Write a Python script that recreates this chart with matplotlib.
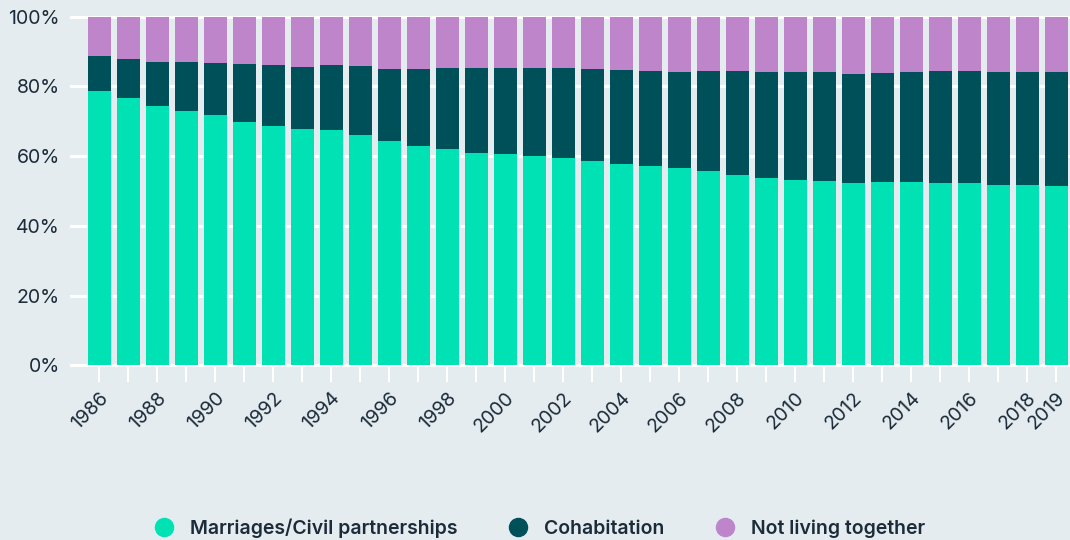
import matplotlib.pyplot as plt
import numpy as np
from matplotlib.lines import Line2D

plt.rcParams['font.family'] = ['Inter', 'DejaVu Sans']

years = list(range(1986, 2020))
# share of couples (%)
married = [78.6, 76.6, 74.3, 72.9, 71.7, 69.7, 68.6, 67.7, 67.4, 66.0,
           64.3, 62.8, 62.0, 60.8, 60.5, 60.0, 59.4, 58.5, 57.6, 57.1,
           56.5, 55.7, 54.5, 53.7, 53.1, 52.8, 52.2, 52.5, 52.5, 52.2,
           52.2, 51.7, 51.7, 51.4]
# top of the cohabitation segment (cumulative %)
cohab_top = [88.6, 87.8, 86.9, 86.9, 86.6, 86.3, 86.0, 85.5, 86.0, 85.8,
             84.9, 84.9, 85.2, 85.2, 85.2, 85.2, 85.2, 84.9, 84.6, 84.3,
             84.0, 84.3, 84.3, 84.0, 84.0, 84.0, 83.5, 83.7, 84.0, 84.3,
             84.3, 84.0, 84.0, 84.0]
cohab = [c - m for c, m in zip(cohab_top, married)]
apart = [100 - c for c in cohab_top]

labels = ["Marriages/Civil partnerships", "Cohabitation", "Not living together"]
colors = ["#00e2b4", "#00505a", "#be85cb"]
bg = "#e4ecef"
txt = "#1c2b39"

fig = plt.figure(figsize=(10.7, 5.4), dpi=100, facecolor=bg)
ax = fig.add_axes([71 / 1070, (540 - 365.3) / 540, 999 / 1070, 348.8 / 540])
ax.set_facecolor(bg)

x = np.arange(len(years))
w = 0.79
ax.bar(x, married, w, color=colors[0], zorder=2)
ax.bar(x, cohab, w, bottom=married, color=colors[1], zorder=2)
ax.bar(x, apart, w, bottom=cohab_top, color=colors[2], zorder=2)

ax.set_xlim(-0.97, 33.48)
ax.set_ylim(0, 100)
ax.set_yticks(range(0, 101, 20))
ax.set_yticklabels([f"{v}%" for v in range(0, 101, 20)], fontsize=14, color=txt)
ax.yaxis.grid(True, color="white", linewidth=2.2, zorder=0)
ax.set_axisbelow(True)
for gl in ax.get_ygridlines():
    gl.set_clip_on(False)
ax.tick_params(axis="y", length=0, pad=8)

ax.set_xticks(x)
ax.set_xticklabels([str(y) if (y % 2 == 0 or y == 2019) else "" for y in years],
                   rotation=45, ha="right", va="top", rotation_mode="anchor",
                   fontsize=14, color=txt)
ax.tick_params(axis="x", length=12, width=1.5, color="white", pad=5)

for s in ax.spines.values():
    s.set_visible(False)

handles = [Line2D([], [], marker="o", linestyle="", markersize=13,
                  markerfacecolor=c, markeredgecolor=c) for c in colors]
fig.legend(handles, labels, loc="lower center", bbox_to_anchor=(0.4996, -0.028),
           ncol=3, frameon=False, handletextpad=0.35, columnspacing=2.1,
           prop={"size": 14, "weight": "semibold"}, labelcolor=txt)

fig.savefig("out.png", dpi=100, facecolor=bg)
